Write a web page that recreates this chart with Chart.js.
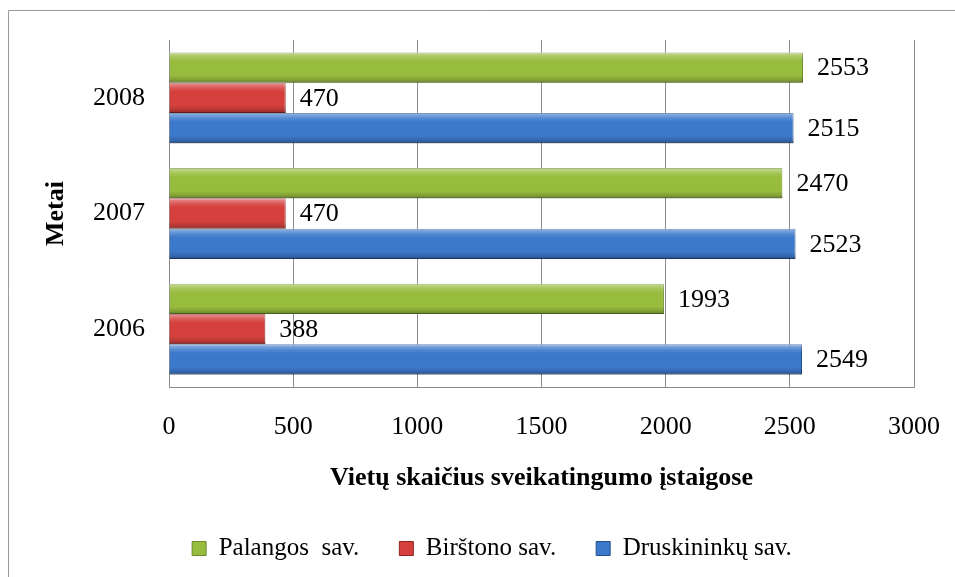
<!DOCTYPE html>
<html>
<head>
<meta charset="utf-8">
<script src="https://cdn.jsdelivr.net/npm/chart.js@4/dist/chart.umd.min.js"></script>
<style>
  html, body { margin: 0; padding: 0; background: #fff; }
  #wrap { width: 955px; height: 577px; position: relative; }
</style>
</head>
<body>
<div id="wrap"><canvas id="chart" width="955" height="577"></canvas></div>
<script>
// Metai (viršuje 2008)
const years = ['2008', '2007', '2006'];

// Vietų skaičius sveikatingumo įstaigose
const palanga = [2553, 2470, 1993];
const birstonas = [470, 470, 388];
const druskininkai = [2515, 2523, 2549];

const seriesNames = ['Palangos  sav.', 'Birštono sav.', 'Druskininkų sav.'];
const xTicks = [0, 500, 1000, 1500, 2000, 2500, 3000];

const serif = '"Liberation Serif", "Times New Roman", serif';

// rėmelis aplink visą diagramą
const framePlugin = {
  id: 'frame',
  beforeDraw(chart) {
    const ctx = chart.ctx;
    ctx.save();
    ctx.strokeStyle = '#9a9a9a';
    ctx.lineWidth = 1;
    ctx.beginPath();
    ctx.moveTo(8.5, 577);
    ctx.lineTo(8.5, 10.5);
    ctx.lineTo(955, 10.5);
    ctx.stroke();
    ctx.restore();
  }
};

// "cilindrinis" stulpelių atspalvis
const shadePlugin = {
  id: 'shade',
  afterDatasetsDraw(chart) {
    const ctx = chart.ctx;
    ctx.save();
    chart.data.datasets.forEach((ds, i) => {
      chart.getDatasetMeta(i).data.forEach(bar => {
        const p = bar.getProps(['x', 'y', 'base', 'height'], true);
        const top = p.y - p.height / 2;
        const bottom = p.y + p.height / 2;
        const g = ctx.createLinearGradient(0, top, 0, bottom);
        g.addColorStop(0, 'rgba(255,255,255,0.45)');
        g.addColorStop(0.18, 'rgba(255,255,255,0.12)');
        g.addColorStop(0.3, 'rgba(255,255,255,0)');
        g.addColorStop(0.75, 'rgba(0,0,0,0)');
        g.addColorStop(0.9, 'rgba(0,0,0,0.15)');
        g.addColorStop(1, 'rgba(0,0,0,0.35)');
        ctx.fillStyle = g;
        ctx.fillRect(p.base, top, p.x - p.base, p.height);
      });
    });
    ctx.restore();
  }
};

// reikšmės prie stulpelių galų
const valuePlugin = {
  id: 'values',
  afterDatasetsDraw(chart) {
    const ctx = chart.ctx;
    ctx.save();
    ctx.font = '26px ' + serif;
    ctx.fillStyle = '#000';
    ctx.textAlign = 'left';
    ctx.textBaseline = 'middle';
    chart.data.datasets.forEach((ds, i) => {
      chart.getDatasetMeta(i).data.forEach((bar, j) => {
        ctx.fillText(String(ds.data[j]), bar.x + 14, bar.y + 1);
      });
    });
    ctx.restore();
  }
};

new Chart(document.getElementById('chart'), {
  type: 'bar',
  data: {
    labels: years,
    datasets: [
      {
        label: seriesNames[0],
        data: palanga,
        backgroundColor: '#98bd3e',
        borderColor: '#6b8a2a',
        borderWidth: 1
      },
      {
        label: seriesNames[1],
        data: birstonas,
        backgroundColor: '#d5403d',
        borderColor: '#8e2523',
        borderWidth: 1
      },
      {
        label: seriesNames[2],
        data: druskininkai,
        backgroundColor: '#3c79cb',
        borderColor: '#234f8c',
        borderWidth: 1
      }
    ]
  },
  options: {
    indexAxis: 'y',
    responsive: false,
    animation: false,
    categoryPercentage: 0.786,
    barPercentage: 1,
    layout: { padding: { top: 40, right: 41, bottom: 6, left: 70 } },
    scales: {
      x: {
        min: 0,
        max: 3000,
        afterBuildTicks: scale => { scale.ticks = xTicks.map(v => ({ value: v })); },
        afterFit: scale => {
          scale.height = 109;
          scale.paddingLeft = 0;
          scale.paddingRight = 0;
        },
        grid: { color: '#8c8c8c', lineWidth: 1, drawTicks: false },
        border: { display: true, color: '#8c8c8c' },
        ticks: {
          padding: 25,
          color: '#000',
          font: { family: serif, size: 26 },
          callback: v => String(v)
        },
        title: {
          display: true,
          text: 'Vietų skaičius sveikatingumo įstaigose',
          color: '#000',
          font: { family: serif, size: 26, weight: 'bold' },
          padding: { top: 0, bottom: 2 }
        }
      },
      y: {
        afterFit: scale => {
          scale.width = 99;
          scale.paddingTop = 0;
          scale.paddingBottom = 0;
        },
        grid: { display: false, drawTicks: false },
        border: { display: false },
        ticks: {
          padding: 24,
          color: '#000',
          font: { family: serif, size: 26 }
        },
        title: {
          display: true,
          text: 'Metai',
          color: '#000',
          font: { family: serif, size: 26, weight: 'bold' },
          padding: { top: -29, bottom: 0 }
        }
      }
    },
    plugins: {
      legend: {
        position: 'bottom',
        labels: {
          boxWidth: 14,
          boxHeight: 14,
          padding: 40,
          color: '#000',
          font: { family: serif, size: 25 }
        }
      },
      tooltip: { enabled: false }
    }
  },
  plugins: [framePlugin, shadePlugin, valuePlugin]
});
</script>
</body>
</html>
